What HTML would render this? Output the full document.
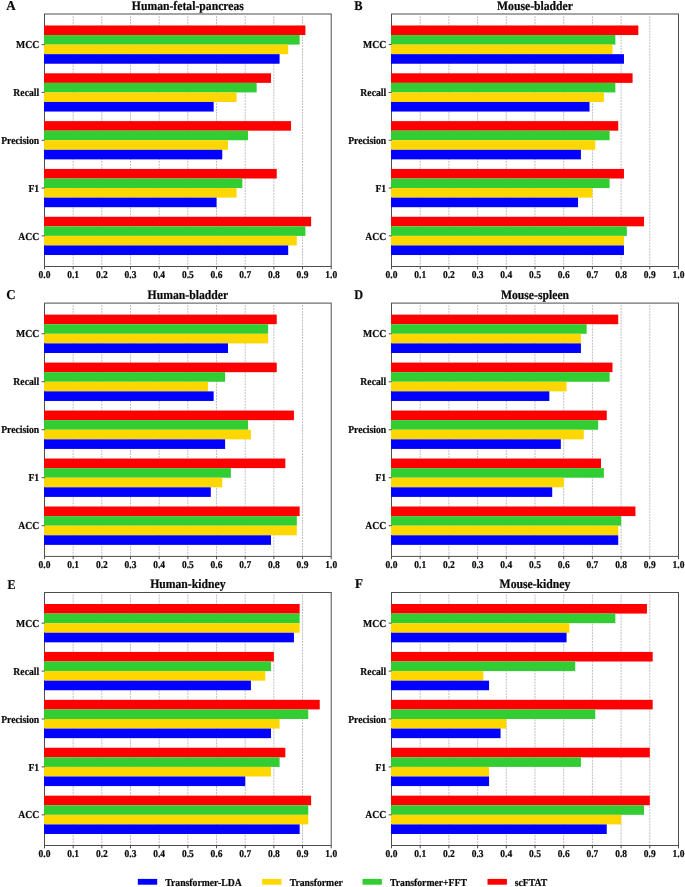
<!DOCTYPE html>
<html lang="en">
<head>
<meta charset="utf-8">
<title>Model comparison across datasets</title>
<style>
html,body{margin:0;padding:0;background:#fff}
body{width:685px;height:887px;overflow:hidden}
svg{display:block;will-change:transform}
text{font-family:"Liberation Serif","Times New Roman",Times,serif;font-weight:bold;fill:#0a0a0a;stroke:#0a0a0a;stroke-width:0.2px;text-rendering:geometricPrecision}
.t{font-size:11.7px;text-anchor:middle}
.y{font-size:9.7px;text-anchor:end}
.x{font-size:9.5px;text-anchor:middle}
.p{font-size:13px}
.g{font-size:9.7px}
.grid line{stroke:#bebebe;stroke-width:1;stroke-dasharray:1.9 1.0}
.tick line{stroke:#4d4d4d;stroke-width:1}
.frame{fill:none;stroke:#4d4d4d;stroke-width:1}
</style>
</head>
<body>
<svg width="685" height="887" viewBox="0 0 685 887">
<rect x="0" y="0" width="685" height="887" fill="#ffffff"/>
<g id="panel-A">
<text class="p" transform="translate(6.20 9.80) scale(1.0 1.04)">A</text>
<text class="t" transform="translate(187.85 9.65) scale(1.0 1.1)">Human-fetal-pancreas</text>
<g class="grid">
<line x1="73.17" y1="16.1" x2="73.17" y2="265.9"/>
<line x1="101.84" y1="16.1" x2="101.84" y2="265.9"/>
<line x1="130.51" y1="16.1" x2="130.51" y2="265.9"/>
<line x1="159.18" y1="16.1" x2="159.18" y2="265.9"/>
<line x1="187.85" y1="16.1" x2="187.85" y2="265.9"/>
<line x1="216.52" y1="16.1" x2="216.52" y2="265.9"/>
<line x1="245.19" y1="16.1" x2="245.19" y2="265.9"/>
<line x1="273.86" y1="16.1" x2="273.86" y2="265.9"/>
<line x1="302.53" y1="16.1" x2="302.53" y2="265.9"/>
</g>
<rect class="frame" x="44.5" y="14.0" width="286.7" height="252.5"/>
<rect x="44.0" y="25.48" width="261.40" height="9.56" fill="#ff0000"/>
<rect x="44.0" y="35.04" width="255.66" height="9.56" fill="#32cd32"/>
<rect x="44.0" y="44.61" width="244.19" height="9.56" fill="#ffd700"/>
<rect x="44.0" y="54.17" width="235.59" height="9.56" fill="#0000ff"/>
<rect x="44.0" y="73.30" width="226.99" height="9.56" fill="#ff0000"/>
<rect x="44.0" y="82.86" width="212.66" height="9.56" fill="#32cd32"/>
<rect x="44.0" y="92.43" width="192.59" height="9.56" fill="#ffd700"/>
<rect x="44.0" y="101.99" width="169.65" height="9.56" fill="#0000ff"/>
<rect x="44.0" y="121.12" width="247.06" height="9.56" fill="#ff0000"/>
<rect x="44.0" y="130.69" width="204.06" height="9.56" fill="#32cd32"/>
<rect x="44.0" y="140.25" width="183.99" height="9.56" fill="#ffd700"/>
<rect x="44.0" y="149.81" width="178.25" height="9.56" fill="#0000ff"/>
<rect x="44.0" y="168.94" width="232.73" height="9.56" fill="#ff0000"/>
<rect x="44.0" y="178.51" width="198.32" height="9.56" fill="#32cd32"/>
<rect x="44.0" y="188.07" width="192.59" height="9.56" fill="#ffd700"/>
<rect x="44.0" y="197.64" width="172.52" height="9.56" fill="#0000ff"/>
<rect x="44.0" y="216.77" width="267.13" height="9.56" fill="#ff0000"/>
<rect x="44.0" y="226.33" width="261.40" height="9.56" fill="#32cd32"/>
<rect x="44.0" y="235.89" width="252.80" height="9.56" fill="#ffd700"/>
<rect x="44.0" y="245.46" width="244.19" height="9.56" fill="#0000ff"/>
<g class="tick">
<line x1="44.50" y1="266.5" x2="44.50" y2="269.3"/>
<line x1="73.17" y1="266.5" x2="73.17" y2="269.3"/>
<line x1="101.84" y1="266.5" x2="101.84" y2="269.3"/>
<line x1="130.51" y1="266.5" x2="130.51" y2="269.3"/>
<line x1="159.18" y1="266.5" x2="159.18" y2="269.3"/>
<line x1="187.85" y1="266.5" x2="187.85" y2="269.3"/>
<line x1="216.52" y1="266.5" x2="216.52" y2="269.3"/>
<line x1="245.19" y1="266.5" x2="245.19" y2="269.3"/>
<line x1="273.86" y1="266.5" x2="273.86" y2="269.3"/>
<line x1="302.53" y1="266.5" x2="302.53" y2="269.3"/>
<line x1="331.20" y1="266.5" x2="331.20" y2="269.3"/>
<line x1="41.7" y1="44.61" x2="44.5" y2="44.61"/>
<line x1="41.7" y1="92.43" x2="44.5" y2="92.43"/>
<line x1="41.7" y1="140.25" x2="44.5" y2="140.25"/>
<line x1="41.7" y1="188.07" x2="44.5" y2="188.07"/>
<line x1="41.7" y1="235.89" x2="44.5" y2="235.89"/>
</g>
<text class="x" transform="translate(44.50 278.00) scale(1.0 1.1)">0.0</text>
<text class="x" transform="translate(73.17 278.00) scale(1.0 1.1)">0.1</text>
<text class="x" transform="translate(101.84 278.00) scale(1.0 1.1)">0.2</text>
<text class="x" transform="translate(130.51 278.00) scale(1.0 1.1)">0.3</text>
<text class="x" transform="translate(159.18 278.00) scale(1.0 1.1)">0.4</text>
<text class="x" transform="translate(187.85 278.00) scale(1.0 1.1)">0.5</text>
<text class="x" transform="translate(216.52 278.00) scale(1.0 1.1)">0.6</text>
<text class="x" transform="translate(245.19 278.00) scale(1.0 1.1)">0.7</text>
<text class="x" transform="translate(273.86 278.00) scale(1.0 1.1)">0.8</text>
<text class="x" transform="translate(302.53 278.00) scale(1.0 1.1)">0.9</text>
<text class="x" transform="translate(331.20 278.00) scale(1.0 1.1)">1.0</text>
<text class="y" transform="translate(39.20 48.31) scale(1.0 1.1)">MCC</text>
<text class="y" transform="translate(39.20 96.13) scale(1.0 1.1)">Recall</text>
<text class="y" transform="translate(39.20 143.95) scale(1.0 1.1)">Precision</text>
<text class="y" transform="translate(39.20 191.77) scale(1.0 1.1)">F1</text>
<text class="y" transform="translate(39.20 239.59) scale(1.0 1.1)">ACC</text>
</g>
<g id="panel-B">
<text class="p" transform="translate(354.30 9.80) scale(0.95 1.04)">B</text>
<text class="t" transform="translate(535.00 9.65) scale(1.0 1.1)">Mouse-bladder</text>
<g class="grid">
<line x1="420.20" y1="16.1" x2="420.20" y2="265.9"/>
<line x1="448.90" y1="16.1" x2="448.90" y2="265.9"/>
<line x1="477.60" y1="16.1" x2="477.60" y2="265.9"/>
<line x1="506.30" y1="16.1" x2="506.30" y2="265.9"/>
<line x1="535.00" y1="16.1" x2="535.00" y2="265.9"/>
<line x1="563.70" y1="16.1" x2="563.70" y2="265.9"/>
<line x1="592.40" y1="16.1" x2="592.40" y2="265.9"/>
<line x1="621.10" y1="16.1" x2="621.10" y2="265.9"/>
<line x1="649.80" y1="16.1" x2="649.80" y2="265.9"/>
</g>
<rect class="frame" x="391.5" y="14.0" width="287.0" height="252.5"/>
<rect x="391.0" y="25.48" width="247.32" height="9.56" fill="#ff0000"/>
<rect x="391.0" y="35.04" width="224.36" height="9.56" fill="#32cd32"/>
<rect x="391.0" y="44.61" width="221.49" height="9.56" fill="#ffd700"/>
<rect x="391.0" y="54.17" width="232.97" height="9.56" fill="#0000ff"/>
<rect x="391.0" y="73.30" width="241.58" height="9.56" fill="#ff0000"/>
<rect x="391.0" y="82.86" width="224.36" height="9.56" fill="#32cd32"/>
<rect x="391.0" y="92.43" width="212.88" height="9.56" fill="#ffd700"/>
<rect x="391.0" y="101.99" width="198.53" height="9.56" fill="#0000ff"/>
<rect x="391.0" y="121.12" width="227.23" height="9.56" fill="#ff0000"/>
<rect x="391.0" y="130.69" width="218.62" height="9.56" fill="#32cd32"/>
<rect x="391.0" y="140.25" width="204.27" height="9.56" fill="#ffd700"/>
<rect x="391.0" y="149.81" width="189.92" height="9.56" fill="#0000ff"/>
<rect x="391.0" y="168.94" width="232.97" height="9.56" fill="#ff0000"/>
<rect x="391.0" y="178.51" width="218.62" height="9.56" fill="#32cd32"/>
<rect x="391.0" y="188.07" width="201.40" height="9.56" fill="#ffd700"/>
<rect x="391.0" y="197.64" width="187.05" height="9.56" fill="#0000ff"/>
<rect x="391.0" y="216.77" width="253.06" height="9.56" fill="#ff0000"/>
<rect x="391.0" y="226.33" width="235.84" height="9.56" fill="#32cd32"/>
<rect x="391.0" y="235.89" width="232.97" height="9.56" fill="#ffd700"/>
<rect x="391.0" y="245.46" width="232.97" height="9.56" fill="#0000ff"/>
<g class="tick">
<line x1="391.50" y1="266.5" x2="391.50" y2="269.3"/>
<line x1="420.20" y1="266.5" x2="420.20" y2="269.3"/>
<line x1="448.90" y1="266.5" x2="448.90" y2="269.3"/>
<line x1="477.60" y1="266.5" x2="477.60" y2="269.3"/>
<line x1="506.30" y1="266.5" x2="506.30" y2="269.3"/>
<line x1="535.00" y1="266.5" x2="535.00" y2="269.3"/>
<line x1="563.70" y1="266.5" x2="563.70" y2="269.3"/>
<line x1="592.40" y1="266.5" x2="592.40" y2="269.3"/>
<line x1="621.10" y1="266.5" x2="621.10" y2="269.3"/>
<line x1="649.80" y1="266.5" x2="649.80" y2="269.3"/>
<line x1="678.50" y1="266.5" x2="678.50" y2="269.3"/>
<line x1="388.7" y1="44.61" x2="391.5" y2="44.61"/>
<line x1="388.7" y1="92.43" x2="391.5" y2="92.43"/>
<line x1="388.7" y1="140.25" x2="391.5" y2="140.25"/>
<line x1="388.7" y1="188.07" x2="391.5" y2="188.07"/>
<line x1="388.7" y1="235.89" x2="391.5" y2="235.89"/>
</g>
<text class="x" transform="translate(391.50 278.00) scale(1.0 1.1)">0.0</text>
<text class="x" transform="translate(420.20 278.00) scale(1.0 1.1)">0.1</text>
<text class="x" transform="translate(448.90 278.00) scale(1.0 1.1)">0.2</text>
<text class="x" transform="translate(477.60 278.00) scale(1.0 1.1)">0.3</text>
<text class="x" transform="translate(506.30 278.00) scale(1.0 1.1)">0.4</text>
<text class="x" transform="translate(535.00 278.00) scale(1.0 1.1)">0.5</text>
<text class="x" transform="translate(563.70 278.00) scale(1.0 1.1)">0.6</text>
<text class="x" transform="translate(592.40 278.00) scale(1.0 1.1)">0.7</text>
<text class="x" transform="translate(621.10 278.00) scale(1.0 1.1)">0.8</text>
<text class="x" transform="translate(649.80 278.00) scale(1.0 1.1)">0.9</text>
<text class="x" transform="translate(678.50 278.00) scale(1.0 1.1)">1.0</text>
<text class="y" transform="translate(386.20 48.31) scale(1.0 1.1)">MCC</text>
<text class="y" transform="translate(386.20 96.13) scale(1.0 1.1)">Recall</text>
<text class="y" transform="translate(386.20 143.95) scale(1.0 1.1)">Precision</text>
<text class="y" transform="translate(386.20 191.77) scale(1.0 1.1)">F1</text>
<text class="y" transform="translate(386.20 239.59) scale(1.0 1.1)">ACC</text>
</g>
<g id="panel-C">
<text class="p" transform="translate(6.20 298.90) scale(1.0 1.04)">C</text>
<text class="t" transform="translate(187.85 298.75) scale(1.0 1.1)">Human-bladder</text>
<g class="grid">
<line x1="73.17" y1="305.2" x2="73.17" y2="555.8"/>
<line x1="101.84" y1="305.2" x2="101.84" y2="555.8"/>
<line x1="130.51" y1="305.2" x2="130.51" y2="555.8"/>
<line x1="159.18" y1="305.2" x2="159.18" y2="555.8"/>
<line x1="187.85" y1="305.2" x2="187.85" y2="555.8"/>
<line x1="216.52" y1="305.2" x2="216.52" y2="555.8"/>
<line x1="245.19" y1="305.2" x2="245.19" y2="555.8"/>
<line x1="273.86" y1="305.2" x2="273.86" y2="555.8"/>
<line x1="302.53" y1="305.2" x2="302.53" y2="555.8"/>
</g>
<rect class="frame" x="44.5" y="303.1" width="286.7" height="253.3"/>
<rect x="44.0" y="314.61" width="232.73" height="9.59" fill="#ff0000"/>
<rect x="44.0" y="324.21" width="224.13" height="9.59" fill="#32cd32"/>
<rect x="44.0" y="333.80" width="224.13" height="9.59" fill="#ffd700"/>
<rect x="44.0" y="343.40" width="183.99" height="9.59" fill="#0000ff"/>
<rect x="44.0" y="362.59" width="232.73" height="9.59" fill="#ff0000"/>
<rect x="44.0" y="372.18" width="181.12" height="9.59" fill="#32cd32"/>
<rect x="44.0" y="381.78" width="163.92" height="9.59" fill="#ffd700"/>
<rect x="44.0" y="391.37" width="169.65" height="9.59" fill="#0000ff"/>
<rect x="44.0" y="410.56" width="249.93" height="9.59" fill="#ff0000"/>
<rect x="44.0" y="420.16" width="204.06" height="9.59" fill="#32cd32"/>
<rect x="44.0" y="429.75" width="206.92" height="9.59" fill="#ffd700"/>
<rect x="44.0" y="439.34" width="181.12" height="9.59" fill="#0000ff"/>
<rect x="44.0" y="458.53" width="241.33" height="9.59" fill="#ff0000"/>
<rect x="44.0" y="468.13" width="186.85" height="9.59" fill="#32cd32"/>
<rect x="44.0" y="477.72" width="178.25" height="9.59" fill="#ffd700"/>
<rect x="44.0" y="487.32" width="166.79" height="9.59" fill="#0000ff"/>
<rect x="44.0" y="506.51" width="255.66" height="9.59" fill="#ff0000"/>
<rect x="44.0" y="516.10" width="252.80" height="9.59" fill="#32cd32"/>
<rect x="44.0" y="525.70" width="252.80" height="9.59" fill="#ffd700"/>
<rect x="44.0" y="535.29" width="226.99" height="9.59" fill="#0000ff"/>
<g class="tick">
<line x1="44.50" y1="556.4" x2="44.50" y2="559.2"/>
<line x1="73.17" y1="556.4" x2="73.17" y2="559.2"/>
<line x1="101.84" y1="556.4" x2="101.84" y2="559.2"/>
<line x1="130.51" y1="556.4" x2="130.51" y2="559.2"/>
<line x1="159.18" y1="556.4" x2="159.18" y2="559.2"/>
<line x1="187.85" y1="556.4" x2="187.85" y2="559.2"/>
<line x1="216.52" y1="556.4" x2="216.52" y2="559.2"/>
<line x1="245.19" y1="556.4" x2="245.19" y2="559.2"/>
<line x1="273.86" y1="556.4" x2="273.86" y2="559.2"/>
<line x1="302.53" y1="556.4" x2="302.53" y2="559.2"/>
<line x1="331.20" y1="556.4" x2="331.20" y2="559.2"/>
<line x1="41.7" y1="333.80" x2="44.5" y2="333.80"/>
<line x1="41.7" y1="381.78" x2="44.5" y2="381.78"/>
<line x1="41.7" y1="429.75" x2="44.5" y2="429.75"/>
<line x1="41.7" y1="477.72" x2="44.5" y2="477.72"/>
<line x1="41.7" y1="525.70" x2="44.5" y2="525.70"/>
</g>
<text class="x" transform="translate(44.50 567.90) scale(1.0 1.1)">0.0</text>
<text class="x" transform="translate(73.17 567.90) scale(1.0 1.1)">0.1</text>
<text class="x" transform="translate(101.84 567.90) scale(1.0 1.1)">0.2</text>
<text class="x" transform="translate(130.51 567.90) scale(1.0 1.1)">0.3</text>
<text class="x" transform="translate(159.18 567.90) scale(1.0 1.1)">0.4</text>
<text class="x" transform="translate(187.85 567.90) scale(1.0 1.1)">0.5</text>
<text class="x" transform="translate(216.52 567.90) scale(1.0 1.1)">0.6</text>
<text class="x" transform="translate(245.19 567.90) scale(1.0 1.1)">0.7</text>
<text class="x" transform="translate(273.86 567.90) scale(1.0 1.1)">0.8</text>
<text class="x" transform="translate(302.53 567.90) scale(1.0 1.1)">0.9</text>
<text class="x" transform="translate(331.20 567.90) scale(1.0 1.1)">1.0</text>
<text class="y" transform="translate(39.20 336.80) scale(1.0 1.1)">MCC</text>
<text class="y" transform="translate(39.20 384.78) scale(1.0 1.1)">Recall</text>
<text class="y" transform="translate(39.20 432.75) scale(1.0 1.1)">Precision</text>
<text class="y" transform="translate(39.20 480.72) scale(1.0 1.1)">F1</text>
<text class="y" transform="translate(39.20 528.70) scale(1.0 1.1)">ACC</text>
</g>
<g id="panel-D">
<text class="p" transform="translate(354.20 298.90) scale(0.94 1.04)">D</text>
<text class="t" transform="translate(535.00 298.75) scale(1.0 1.1)">Mouse-spleen</text>
<g class="grid">
<line x1="420.20" y1="305.2" x2="420.20" y2="555.8"/>
<line x1="448.90" y1="305.2" x2="448.90" y2="555.8"/>
<line x1="477.60" y1="305.2" x2="477.60" y2="555.8"/>
<line x1="506.30" y1="305.2" x2="506.30" y2="555.8"/>
<line x1="535.00" y1="305.2" x2="535.00" y2="555.8"/>
<line x1="563.70" y1="305.2" x2="563.70" y2="555.8"/>
<line x1="592.40" y1="305.2" x2="592.40" y2="555.8"/>
<line x1="621.10" y1="305.2" x2="621.10" y2="555.8"/>
<line x1="649.80" y1="305.2" x2="649.80" y2="555.8"/>
</g>
<rect class="frame" x="391.5" y="303.1" width="287.0" height="253.3"/>
<rect x="391.0" y="314.61" width="227.23" height="9.59" fill="#ff0000"/>
<rect x="391.0" y="324.21" width="195.66" height="9.59" fill="#32cd32"/>
<rect x="391.0" y="333.80" width="189.92" height="9.59" fill="#ffd700"/>
<rect x="391.0" y="343.40" width="189.92" height="9.59" fill="#0000ff"/>
<rect x="391.0" y="362.59" width="221.49" height="9.59" fill="#ff0000"/>
<rect x="391.0" y="372.18" width="218.62" height="9.59" fill="#32cd32"/>
<rect x="391.0" y="381.78" width="175.57" height="9.59" fill="#ffd700"/>
<rect x="391.0" y="391.37" width="158.35" height="9.59" fill="#0000ff"/>
<rect x="391.0" y="410.56" width="215.75" height="9.59" fill="#ff0000"/>
<rect x="391.0" y="420.16" width="207.14" height="9.59" fill="#32cd32"/>
<rect x="391.0" y="429.75" width="192.79" height="9.59" fill="#ffd700"/>
<rect x="391.0" y="439.34" width="169.83" height="9.59" fill="#0000ff"/>
<rect x="391.0" y="458.53" width="210.01" height="9.59" fill="#ff0000"/>
<rect x="391.0" y="468.13" width="212.88" height="9.59" fill="#32cd32"/>
<rect x="391.0" y="477.72" width="172.70" height="9.59" fill="#ffd700"/>
<rect x="391.0" y="487.32" width="161.22" height="9.59" fill="#0000ff"/>
<rect x="391.0" y="506.51" width="244.45" height="9.59" fill="#ff0000"/>
<rect x="391.0" y="516.10" width="230.10" height="9.59" fill="#32cd32"/>
<rect x="391.0" y="525.70" width="227.23" height="9.59" fill="#ffd700"/>
<rect x="391.0" y="535.29" width="227.23" height="9.59" fill="#0000ff"/>
<g class="tick">
<line x1="391.50" y1="556.4" x2="391.50" y2="559.2"/>
<line x1="420.20" y1="556.4" x2="420.20" y2="559.2"/>
<line x1="448.90" y1="556.4" x2="448.90" y2="559.2"/>
<line x1="477.60" y1="556.4" x2="477.60" y2="559.2"/>
<line x1="506.30" y1="556.4" x2="506.30" y2="559.2"/>
<line x1="535.00" y1="556.4" x2="535.00" y2="559.2"/>
<line x1="563.70" y1="556.4" x2="563.70" y2="559.2"/>
<line x1="592.40" y1="556.4" x2="592.40" y2="559.2"/>
<line x1="621.10" y1="556.4" x2="621.10" y2="559.2"/>
<line x1="649.80" y1="556.4" x2="649.80" y2="559.2"/>
<line x1="678.50" y1="556.4" x2="678.50" y2="559.2"/>
<line x1="388.7" y1="333.80" x2="391.5" y2="333.80"/>
<line x1="388.7" y1="381.78" x2="391.5" y2="381.78"/>
<line x1="388.7" y1="429.75" x2="391.5" y2="429.75"/>
<line x1="388.7" y1="477.72" x2="391.5" y2="477.72"/>
<line x1="388.7" y1="525.70" x2="391.5" y2="525.70"/>
</g>
<text class="x" transform="translate(391.50 567.90) scale(1.0 1.1)">0.0</text>
<text class="x" transform="translate(420.20 567.90) scale(1.0 1.1)">0.1</text>
<text class="x" transform="translate(448.90 567.90) scale(1.0 1.1)">0.2</text>
<text class="x" transform="translate(477.60 567.90) scale(1.0 1.1)">0.3</text>
<text class="x" transform="translate(506.30 567.90) scale(1.0 1.1)">0.4</text>
<text class="x" transform="translate(535.00 567.90) scale(1.0 1.1)">0.5</text>
<text class="x" transform="translate(563.70 567.90) scale(1.0 1.1)">0.6</text>
<text class="x" transform="translate(592.40 567.90) scale(1.0 1.1)">0.7</text>
<text class="x" transform="translate(621.10 567.90) scale(1.0 1.1)">0.8</text>
<text class="x" transform="translate(649.80 567.90) scale(1.0 1.1)">0.9</text>
<text class="x" transform="translate(678.50 567.90) scale(1.0 1.1)">1.0</text>
<text class="y" transform="translate(386.20 336.80) scale(1.0 1.1)">MCC</text>
<text class="y" transform="translate(386.20 384.78) scale(1.0 1.1)">Recall</text>
<text class="y" transform="translate(386.20 432.75) scale(1.0 1.1)">Precision</text>
<text class="y" transform="translate(386.20 480.72) scale(1.0 1.1)">F1</text>
<text class="y" transform="translate(386.20 528.70) scale(1.0 1.1)">ACC</text>
</g>
<g id="panel-E">
<text class="p" transform="translate(7.50 588.70) scale(0.93 1.04)">E</text>
<text class="t" transform="translate(187.85 588.15) scale(1.0 1.1)">Human-kidney</text>
<g class="grid">
<line x1="73.17" y1="594.6" x2="73.17" y2="844.9"/>
<line x1="101.84" y1="594.6" x2="101.84" y2="844.9"/>
<line x1="130.51" y1="594.6" x2="130.51" y2="844.9"/>
<line x1="159.18" y1="594.6" x2="159.18" y2="844.9"/>
<line x1="187.85" y1="594.6" x2="187.85" y2="844.9"/>
<line x1="216.52" y1="594.6" x2="216.52" y2="844.9"/>
<line x1="245.19" y1="594.6" x2="245.19" y2="844.9"/>
<line x1="273.86" y1="594.6" x2="273.86" y2="844.9"/>
<line x1="302.53" y1="594.6" x2="302.53" y2="844.9"/>
</g>
<rect class="frame" x="44.5" y="592.5" width="286.7" height="253.0"/>
<rect x="44.0" y="604.00" width="255.66" height="9.58" fill="#ff0000"/>
<rect x="44.0" y="613.58" width="255.66" height="9.58" fill="#32cd32"/>
<rect x="44.0" y="623.17" width="255.66" height="9.58" fill="#ffd700"/>
<rect x="44.0" y="632.75" width="249.93" height="9.58" fill="#0000ff"/>
<rect x="44.0" y="651.92" width="229.86" height="9.58" fill="#ff0000"/>
<rect x="44.0" y="661.50" width="226.99" height="9.58" fill="#32cd32"/>
<rect x="44.0" y="671.08" width="221.26" height="9.58" fill="#ffd700"/>
<rect x="44.0" y="680.67" width="206.92" height="9.58" fill="#0000ff"/>
<rect x="44.0" y="699.83" width="275.73" height="9.58" fill="#ff0000"/>
<rect x="44.0" y="709.42" width="264.26" height="9.58" fill="#32cd32"/>
<rect x="44.0" y="719.00" width="235.59" height="9.58" fill="#ffd700"/>
<rect x="44.0" y="728.58" width="226.99" height="9.58" fill="#0000ff"/>
<rect x="44.0" y="747.75" width="241.33" height="9.58" fill="#ff0000"/>
<rect x="44.0" y="757.33" width="235.59" height="9.58" fill="#32cd32"/>
<rect x="44.0" y="766.92" width="226.99" height="9.58" fill="#ffd700"/>
<rect x="44.0" y="776.50" width="201.19" height="9.58" fill="#0000ff"/>
<rect x="44.0" y="795.67" width="267.13" height="9.58" fill="#ff0000"/>
<rect x="44.0" y="805.25" width="264.26" height="9.58" fill="#32cd32"/>
<rect x="44.0" y="814.83" width="264.26" height="9.58" fill="#ffd700"/>
<rect x="44.0" y="824.42" width="255.66" height="9.58" fill="#0000ff"/>
<g class="tick">
<line x1="44.50" y1="845.5" x2="44.50" y2="848.3"/>
<line x1="73.17" y1="845.5" x2="73.17" y2="848.3"/>
<line x1="101.84" y1="845.5" x2="101.84" y2="848.3"/>
<line x1="130.51" y1="845.5" x2="130.51" y2="848.3"/>
<line x1="159.18" y1="845.5" x2="159.18" y2="848.3"/>
<line x1="187.85" y1="845.5" x2="187.85" y2="848.3"/>
<line x1="216.52" y1="845.5" x2="216.52" y2="848.3"/>
<line x1="245.19" y1="845.5" x2="245.19" y2="848.3"/>
<line x1="273.86" y1="845.5" x2="273.86" y2="848.3"/>
<line x1="302.53" y1="845.5" x2="302.53" y2="848.3"/>
<line x1="331.20" y1="845.5" x2="331.20" y2="848.3"/>
<line x1="41.7" y1="623.17" x2="44.5" y2="623.17"/>
<line x1="41.7" y1="671.08" x2="44.5" y2="671.08"/>
<line x1="41.7" y1="719.00" x2="44.5" y2="719.00"/>
<line x1="41.7" y1="766.92" x2="44.5" y2="766.92"/>
<line x1="41.7" y1="814.83" x2="44.5" y2="814.83"/>
</g>
<text class="x" transform="translate(44.50 857.00) scale(1.0 1.1)">0.0</text>
<text class="x" transform="translate(73.17 857.00) scale(1.0 1.1)">0.1</text>
<text class="x" transform="translate(101.84 857.00) scale(1.0 1.1)">0.2</text>
<text class="x" transform="translate(130.51 857.00) scale(1.0 1.1)">0.3</text>
<text class="x" transform="translate(159.18 857.00) scale(1.0 1.1)">0.4</text>
<text class="x" transform="translate(187.85 857.00) scale(1.0 1.1)">0.5</text>
<text class="x" transform="translate(216.52 857.00) scale(1.0 1.1)">0.6</text>
<text class="x" transform="translate(245.19 857.00) scale(1.0 1.1)">0.7</text>
<text class="x" transform="translate(273.86 857.00) scale(1.0 1.1)">0.8</text>
<text class="x" transform="translate(302.53 857.00) scale(1.0 1.1)">0.9</text>
<text class="x" transform="translate(331.20 857.00) scale(1.0 1.1)">1.0</text>
<text class="y" transform="translate(39.20 626.77) scale(1.0 1.1)">MCC</text>
<text class="y" transform="translate(39.20 674.68) scale(1.0 1.1)">Recall</text>
<text class="y" transform="translate(39.20 722.60) scale(1.0 1.1)">Precision</text>
<text class="y" transform="translate(39.20 770.52) scale(1.0 1.1)">F1</text>
<text class="y" transform="translate(39.20 818.43) scale(1.0 1.1)">ACC</text>
</g>
<g id="panel-F">
<text class="p" transform="translate(355.10 588.40) scale(1.0 1.04)">F</text>
<text class="t" transform="translate(535.00 588.15) scale(1.0 1.1)">Mouse-kidney</text>
<g class="grid">
<line x1="420.20" y1="594.6" x2="420.20" y2="844.9"/>
<line x1="448.90" y1="594.6" x2="448.90" y2="844.9"/>
<line x1="477.60" y1="594.6" x2="477.60" y2="844.9"/>
<line x1="506.30" y1="594.6" x2="506.30" y2="844.9"/>
<line x1="535.00" y1="594.6" x2="535.00" y2="844.9"/>
<line x1="563.70" y1="594.6" x2="563.70" y2="844.9"/>
<line x1="592.40" y1="594.6" x2="592.40" y2="844.9"/>
<line x1="621.10" y1="594.6" x2="621.10" y2="844.9"/>
<line x1="649.80" y1="594.6" x2="649.80" y2="844.9"/>
</g>
<rect class="frame" x="391.5" y="592.5" width="287.0" height="253.0"/>
<rect x="391.0" y="604.00" width="255.93" height="9.58" fill="#ff0000"/>
<rect x="391.0" y="613.58" width="224.36" height="9.58" fill="#32cd32"/>
<rect x="391.0" y="623.17" width="178.44" height="9.58" fill="#ffd700"/>
<rect x="391.0" y="632.75" width="175.57" height="9.58" fill="#0000ff"/>
<rect x="391.0" y="651.92" width="261.67" height="9.58" fill="#ff0000"/>
<rect x="391.0" y="661.50" width="184.18" height="9.58" fill="#32cd32"/>
<rect x="391.0" y="671.08" width="92.34" height="9.58" fill="#ffd700"/>
<rect x="391.0" y="680.67" width="98.08" height="9.58" fill="#0000ff"/>
<rect x="391.0" y="699.83" width="261.67" height="9.58" fill="#ff0000"/>
<rect x="391.0" y="709.42" width="204.27" height="9.58" fill="#32cd32"/>
<rect x="391.0" y="719.00" width="115.30" height="9.58" fill="#ffd700"/>
<rect x="391.0" y="728.58" width="109.56" height="9.58" fill="#0000ff"/>
<rect x="391.0" y="747.75" width="258.80" height="9.58" fill="#ff0000"/>
<rect x="391.0" y="757.33" width="189.92" height="9.58" fill="#32cd32"/>
<rect x="391.0" y="766.92" width="98.08" height="9.58" fill="#ffd700"/>
<rect x="391.0" y="776.50" width="98.08" height="9.58" fill="#0000ff"/>
<rect x="391.0" y="795.67" width="258.80" height="9.58" fill="#ff0000"/>
<rect x="391.0" y="805.25" width="253.06" height="9.58" fill="#32cd32"/>
<rect x="391.0" y="814.83" width="230.10" height="9.58" fill="#ffd700"/>
<rect x="391.0" y="824.42" width="215.75" height="9.58" fill="#0000ff"/>
<g class="tick">
<line x1="391.50" y1="845.5" x2="391.50" y2="848.3"/>
<line x1="420.20" y1="845.5" x2="420.20" y2="848.3"/>
<line x1="448.90" y1="845.5" x2="448.90" y2="848.3"/>
<line x1="477.60" y1="845.5" x2="477.60" y2="848.3"/>
<line x1="506.30" y1="845.5" x2="506.30" y2="848.3"/>
<line x1="535.00" y1="845.5" x2="535.00" y2="848.3"/>
<line x1="563.70" y1="845.5" x2="563.70" y2="848.3"/>
<line x1="592.40" y1="845.5" x2="592.40" y2="848.3"/>
<line x1="621.10" y1="845.5" x2="621.10" y2="848.3"/>
<line x1="649.80" y1="845.5" x2="649.80" y2="848.3"/>
<line x1="678.50" y1="845.5" x2="678.50" y2="848.3"/>
<line x1="388.7" y1="623.17" x2="391.5" y2="623.17"/>
<line x1="388.7" y1="671.08" x2="391.5" y2="671.08"/>
<line x1="388.7" y1="719.00" x2="391.5" y2="719.00"/>
<line x1="388.7" y1="766.92" x2="391.5" y2="766.92"/>
<line x1="388.7" y1="814.83" x2="391.5" y2="814.83"/>
</g>
<text class="x" transform="translate(391.50 857.00) scale(1.0 1.1)">0.0</text>
<text class="x" transform="translate(420.20 857.00) scale(1.0 1.1)">0.1</text>
<text class="x" transform="translate(448.90 857.00) scale(1.0 1.1)">0.2</text>
<text class="x" transform="translate(477.60 857.00) scale(1.0 1.1)">0.3</text>
<text class="x" transform="translate(506.30 857.00) scale(1.0 1.1)">0.4</text>
<text class="x" transform="translate(535.00 857.00) scale(1.0 1.1)">0.5</text>
<text class="x" transform="translate(563.70 857.00) scale(1.0 1.1)">0.6</text>
<text class="x" transform="translate(592.40 857.00) scale(1.0 1.1)">0.7</text>
<text class="x" transform="translate(621.10 857.00) scale(1.0 1.1)">0.8</text>
<text class="x" transform="translate(649.80 857.00) scale(1.0 1.1)">0.9</text>
<text class="x" transform="translate(678.50 857.00) scale(1.0 1.1)">1.0</text>
<text class="y" transform="translate(386.20 626.77) scale(1.0 1.1)">MCC</text>
<text class="y" transform="translate(386.20 674.68) scale(1.0 1.1)">Recall</text>
<text class="y" transform="translate(386.20 722.60) scale(1.0 1.1)">Precision</text>
<text class="y" transform="translate(386.20 770.52) scale(1.0 1.1)">F1</text>
<text class="y" transform="translate(386.20 818.43) scale(1.0 1.1)">ACC</text>
</g>
<g id="legend">
<rect x="137.8" y="878.9" width="19.4" height="5.8" fill="#0000ff"/>
<text class="g" transform="translate(165.30 885.50) scale(1.0 1.1)">Transformer-LDA</text>
<rect x="262.1" y="878.9" width="19.4" height="5.8" fill="#ffd700"/>
<text class="g" transform="translate(289.70 885.50) scale(1.0 1.1)">Transformer</text>
<rect x="362.5" y="878.9" width="19.4" height="5.8" fill="#32cd32"/>
<text class="g" transform="translate(390.00 885.50) scale(1.0 1.1)">Transformer+FFT</text>
<rect x="487.5" y="878.9" width="19.4" height="5.8" fill="#ff0000"/>
<text class="g" transform="translate(514.80 885.50) scale(1.0 1.1)">scFTAT</text>
</g>
</svg>
</body>
</html>
